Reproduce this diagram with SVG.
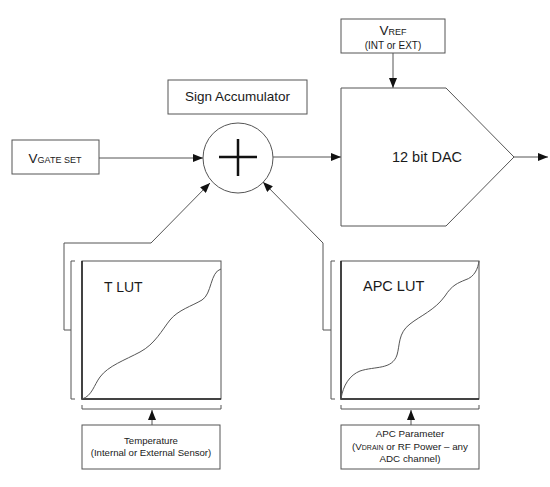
<svg xmlns="http://www.w3.org/2000/svg" width="550" height="487" viewBox="0 0 550 487">
<defs>
<marker id="arr" markerUnits="userSpaceOnUse" markerWidth="10" markerHeight="8" refX="10" refY="4" orient="auto">
<path d="M0,0 L10,4 L0,8 Z" fill="#111"/>
</marker>
<style>
.box{fill:#fff;stroke:#555;stroke-width:1}
.ln{fill:none;stroke:#555;stroke-width:1}
.ax{fill:none;stroke:#222;stroke-width:1.5}
.t{font-family:"Liberation Sans",Arial,sans-serif;fill:#1a1a1a}
</style>
</defs>
<rect width="550" height="487" fill="#fff"/>

<g id="connectors">
<line class="ln" x1="99" y1="158" x2="203" y2="158" marker-end="url(#arr)"/>
<line class="ln" x1="273" y1="157" x2="341" y2="157" marker-end="url(#arr)"/>
<line class="ln" x1="393" y1="53" x2="393" y2="88" marker-end="url(#arr)"/>
<line class="ln" x1="514" y1="157" x2="548" y2="157" marker-end="url(#arr)"/>
<polyline class="ln" points="71,330 64,330 64,243 151,243 210,183" marker-end="url(#arr)"/>
<polyline class="ln" points="331,330 323,330 323,243 263,182" marker-end="url(#arr)"/>
<line class="ln" x1="152" y1="425" x2="152" y2="410" marker-end="url(#arr)"/>
<line class="ln" x1="411" y1="425" x2="411" y2="410" marker-end="url(#arr)"/>
</g>

<g id="sign-accumulator">
<rect class="box" x="168" y="80" width="139" height="34"/>
<text class="t" x="237.5" y="101" font-size="13.5" text-anchor="middle">Sign Accumulator</text>
</g>

<g id="summer">
<circle class="box" cx="238" cy="158" r="35"/>
<line x1="219" y1="157" x2="257" y2="157" stroke="#111" stroke-width="2.5"/>
<line x1="238" y1="139" x2="238" y2="176" stroke="#111" stroke-width="2.5"/>
</g>

<g id="vgate">
<rect class="box" x="12" y="140" width="87" height="34"/>
<text class="t" x="55" y="163" text-anchor="middle"><tspan font-size="13.5">V</tspan><tspan font-size="9">GATE SET</tspan></text>
</g>

<g id="vref">
<rect class="box" x="341" y="19" width="104" height="34"/>
<text class="t" x="393" y="35" text-anchor="middle"><tspan font-size="13.5">V</tspan><tspan font-size="9">REF</tspan></text>
<text class="t" x="393" y="49" font-size="10" text-anchor="middle">(INT or EXT)</text>
</g>

<g id="dac">
<polygon class="box" points="341,88 446,88 514,157 446,226 341,226"/>
<text class="t" x="427" y="162" font-size="14.5" text-anchor="middle">12 bit DAC</text>
</g>

<g id="t-lut">
<rect class="box" x="82" y="261" width="139" height="138"/>
<polyline class="ax" points="82,261 82,399 221,399"/>
<polyline class="ln" points="75,261 71,261 71,399 75,399"/>
<polyline class="ln" points="82,405 82,409 221,409 221,405"/>
<path class="ln" d="M82,399 C92,396 94,385 100,377 C108,366 125,360 140,352 C155,344 162,330 170,320 C178,310 192,306 202,300 C212,294 210,272 221,269"/>
<text class="t" x="104" y="292" font-size="14">T LUT</text>
</g>

<g id="apc-lut">
<rect class="box" x="341" y="261" width="138" height="138"/>
<polyline class="ax" points="341,261 341,399 479,399"/>
<polyline class="ln" points="335,261 331,261 331,399 335,399"/>
<polyline class="ln" points="341,405 341,409 479,409 479,405"/>
<path class="ln" d="M341,399 C343,385 350,375 360,371 C375,366 392,370 397,355 C400,345 398,333 410,324 C420,316 435,310 445,296 C452,285 458,283 465,280 C475,277 478,268 479,261"/>
<text class="t" x="363" y="291" font-size="14.5">APC LUT</text>
</g>

<g id="temperature">
<rect class="box" x="82" y="425" width="138" height="44"/>
<text class="t" x="151" y="444" font-size="9.6" text-anchor="middle">Temperature</text>
<text class="t" x="151" y="456" font-size="9.6" text-anchor="middle">(Internal or External Sensor)</text>
</g>

<g id="apc-parameter">
<rect class="box" x="341" y="425" width="138" height="44"/>
<text class="t" x="410" y="437" font-size="9.8" text-anchor="middle">APC Parameter</text>
<text class="t" x="410" y="450" font-size="9.8" text-anchor="middle">(V<tspan font-size="7">DRAIN</tspan> or RF Power – any</text>
<text class="t" x="410" y="462" font-size="9.8" text-anchor="middle">ADC channel)</text>
</g>
</svg>
